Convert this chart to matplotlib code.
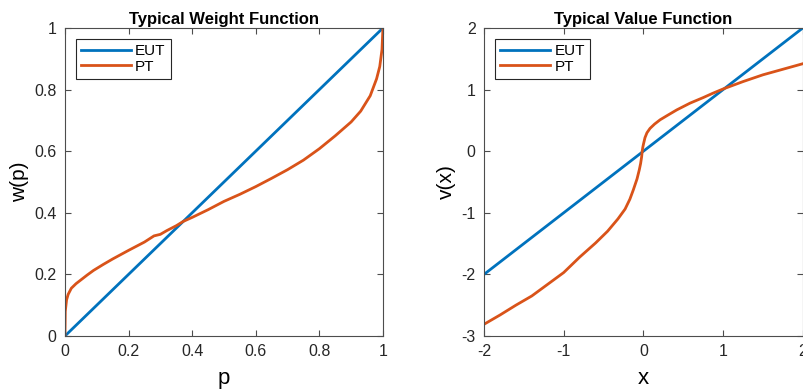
import matplotlib
matplotlib.use("Agg")
import matplotlib.pyplot as plt

plt.rcParams["font.family"] = ["Liberation Sans", "DejaVu Sans"]
plt.rcParams["axes.unicode_minus"] = False

# weight function
p_eut = [0.0, 1.0]
w_eut = [0.0, 1.0]
p_pt = [0, 0.001, 0.005, 0.01, 0.02, 0.035, 0.05, 0.07, 0.09, 0.12, 0.15, 0.2,
        0.25, 0.28, 0.3, 0.32, 0.35, 0.372, 0.4, 0.45, 0.5, 0.55, 0.6, 0.65, 0.7,
        0.75, 0.8, 0.85, 0.9, 0.93, 0.96, 0.98, 0.99, 0.997, 1.0]
w_pt = [0, 0.08, 0.117, 0.135, 0.155, 0.17, 0.182, 0.198, 0.213, 0.232, 0.25, 0.278,
        0.305, 0.325, 0.330, 0.342, 0.358, 0.372, 0.385, 0.41, 0.437, 0.46, 0.485, 0.512, 0.54,
        0.571, 0.608, 0.65, 0.695, 0.73, 0.78, 0.835, 0.875, 0.93, 1.0]

# value function
x_eut = [-2.0, 2.0]
v_eut = [-2.0, 2.0]
x_pt = [-2.0, -1.8, -1.6, -1.4, -1.2, -1.0, -0.8, -0.6, -0.45, -0.32, -0.23, -0.17,
        -0.127, -0.08, -0.052, -0.035, -0.022, -0.015, -0.008, 0.0, 0.02, 0.045, 0.083,
        0.14, 0.21, 0.3, 0.418, 0.585, 0.75, 0.87, 1.0, 1.25, 1.5, 1.75, 2.0]
v_pt = [-2.81, -2.66, -2.50, -2.35, -2.16, -1.97, -1.72, -1.49, -1.30, -1.10, -0.94, -0.78,
        -0.63, -0.45, -0.305, -0.2, -0.09, 0.0, 0.06, 0.11, 0.22, 0.30, 0.37,
        0.44, 0.51, 0.58, 0.67, 0.78, 0.87, 0.94, 1.01, 1.13, 1.24, 1.33, 1.42]

blue = "#0072BD"
orange = "#D95319"

fig = plt.figure(figsize=(8.04, 3.91), dpi=100)
ax1 = fig.add_axes([0.0808, 0.1407, 0.3955, 0.7877])
ax2 = fig.add_axes([0.602, 0.1407, 0.3965, 0.7877])


def style(ax):
    for s in ax.spines.values():
        s.set_color("#4d4d4d")
        s.set_linewidth(0.8)
    ax.tick_params(direction="in", top=True, right=True, length=4,
                   color="#4d4d4d", labelsize=11.5, labelcolor="#262626", pad=6)


ax1.plot(p_eut, w_eut, color=blue, lw=2, label="EUT")
ax1.plot(p_pt, w_pt, color=orange, lw=2, label="PT")
ax1.set_xlim(0, 1)
ax1.set_ylim(0, 1)
ax1.set_xticks([0, 0.2, 0.4, 0.6, 0.8, 1])
ax1.set_xticklabels(["0", "0.2", "0.4", "0.6", "0.8", "1"])
ax1.set_yticks([0, 0.2, 0.4, 0.6, 0.8, 1])
ax1.set_yticklabels(["0", "0.2", "0.4", "0.6", "0.8", "1"])
ax1.set_title("Typical Weight Function", fontsize=12, fontweight="bold", pad=3)
ax1.set_xlabel("p", fontsize=16, labelpad=6)
ax1.set_ylabel("w(p)", fontsize=15, labelpad=4)
style(ax1)

ax2.plot(x_eut, v_eut, color=blue, lw=2, label="EUT")
ax2.plot(x_pt, v_pt, color=orange, lw=2, label="PT")
ax2.set_xlim(-2, 2)
ax2.set_ylim(-3, 2)
ax2.set_xticks([-2, -1, 0, 1, 2])
ax2.set_yticks([-3, -2, -1, 0, 1, 2])
ax2.set_title("Typical Value Function", fontsize=12, fontweight="bold", pad=3)
ax2.set_xlabel("x", fontsize=16, labelpad=6)
ax2.set_ylabel("v(x)", fontsize=15, labelpad=4)
style(ax2)

for ax in (ax1, ax2):
    leg = ax.legend(loc="upper left", fontsize=11, handlelength=3.3,
                    fancybox=False, framealpha=1, borderaxespad=0.7,
                    handletextpad=0.25, labelspacing=0.1, borderpad=0.35)
    leg.get_frame().set_edgecolor("#262626")
    leg.get_frame().set_linewidth(0.8)

fig.savefig("out.png", dpi=100)
